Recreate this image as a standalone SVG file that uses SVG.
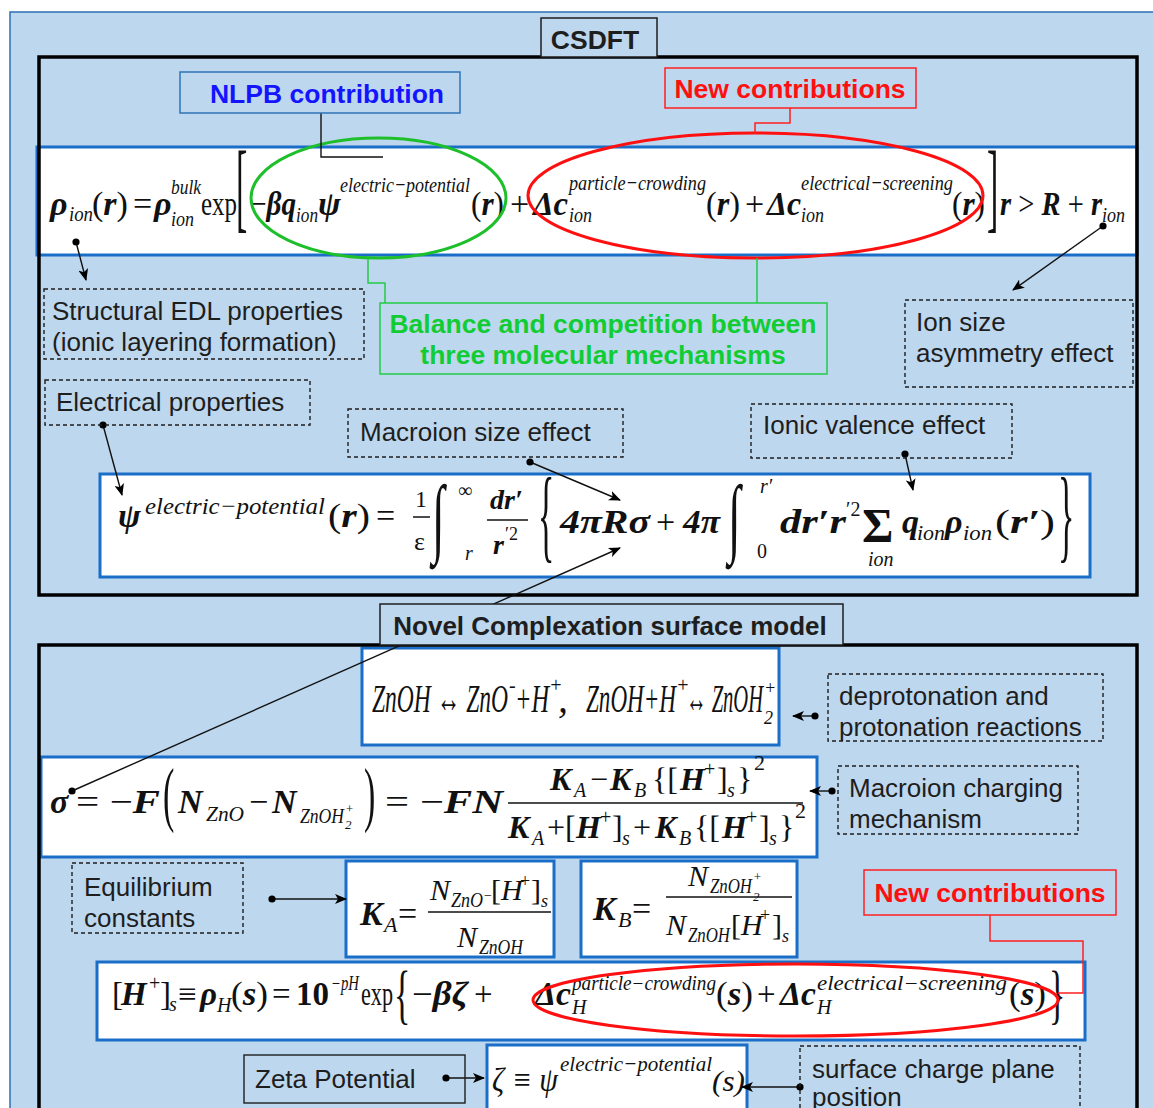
<svg xmlns="http://www.w3.org/2000/svg" width="1153" height="1108" viewBox="0 0 1153 1108">
<style>
.lbl{font-family:"Liberation Sans",Arial,sans-serif;font-size:26px;fill:#1e1e1e}
.bold{font-weight:bold;font-size:26.5px}
.dash{fill:none;stroke:#1e1e1e;stroke-width:1.4;stroke-dasharray:4 3}
.solid{fill:none;stroke:#1e1e1e;stroke-width:1.4}
.band{fill:#fff;stroke:#1a6ec8;stroke-width:3}
.frame{fill:none;stroke:#000;stroke-width:3.5}
.f{font-family:"Liberation Serif","Times New Roman",serif;fill:#111}
.bi{font-style:italic;font-weight:bold}
.it{font-style:italic;font-weight:normal}
.up{font-style:normal;font-weight:normal}
.con{stroke:#111;stroke-width:1.4;fill:none}
.ell{fill:none;stroke-width:3}
</style>
<defs>
<marker id="dot" markerWidth="8" markerHeight="8" refX="4" refY="4" markerUnits="userSpaceOnUse"><circle cx="4" cy="4" r="3.6" fill="#000"/></marker>
<marker id="arr" markerWidth="12" markerHeight="10" refX="11" refY="5" orient="auto" markerUnits="userSpaceOnUse"><path d="M0,0 L12,5 L0,10 L3,5 z" fill="#000"/></marker>
</defs>

<rect x="10" y="12" width="1150" height="1110" fill="#bdd7ee" stroke="#2e6fb0" stroke-width="1.5"/>

<g id="eq-rho">
<rect class="band" x="37" y="147" width="1100" height="108"/>
<text class="f" font-size="34"><tspan class="bi" x="50" y="215">ρ</tspan><tspan class="it" x="69" y="221" font-size="22" textLength="24" lengthAdjust="spacingAndGlyphs">ion</tspan><tspan x="92" y="215">(<tspan class="bi">r</tspan>)</tspan><tspan x="133" y="215">=</tspan><tspan class="bi" x="154" y="215">ρ</tspan><tspan class="it" x="171" y="194" font-size="22" textLength="30" lengthAdjust="spacingAndGlyphs">bulk</tspan><tspan class="it" x="171" y="226" font-size="22" textLength="23" lengthAdjust="spacingAndGlyphs">ion</tspan><tspan x="201" y="215" textLength="36" lengthAdjust="spacingAndGlyphs">exp</tspan><tspan x="250" y="215" textLength="46" lengthAdjust="spacingAndGlyphs">−<tspan class="bi">βq</tspan></tspan><tspan class="it" x="296" y="222" font-size="22" textLength="22" lengthAdjust="spacingAndGlyphs">ion</tspan><tspan class="bi" x="318" y="215">ψ</tspan><tspan class="it" x="340" y="192" font-size="22" textLength="130" lengthAdjust="spacingAndGlyphs">electric−potential</tspan><tspan x="471" y="215" textLength="33" lengthAdjust="spacingAndGlyphs">(<tspan class="bi">r</tspan>)</tspan><tspan x="510" y="215">+</tspan><tspan class="bi" x="533" y="215" textLength="35" lengthAdjust="spacingAndGlyphs">Δc</tspan><tspan class="it" x="569" y="190" font-size="22" textLength="137" lengthAdjust="spacingAndGlyphs">particle−crowding</tspan><tspan class="it" x="569" y="222" font-size="22" textLength="23" lengthAdjust="spacingAndGlyphs">ion</tspan><tspan x="706" y="215" textLength="34" lengthAdjust="spacingAndGlyphs">(<tspan class="bi">r</tspan>)</tspan><tspan x="745" y="215">+</tspan><tspan class="bi" x="767" y="215" textLength="34" lengthAdjust="spacingAndGlyphs">Δc</tspan><tspan class="it" x="801" y="190" font-size="22" textLength="152" lengthAdjust="spacingAndGlyphs">electrical−screening</tspan><tspan class="it" x="801" y="222" font-size="22" textLength="23" lengthAdjust="spacingAndGlyphs">ion</tspan><tspan x="952" y="215" textLength="33" lengthAdjust="spacingAndGlyphs">(<tspan class="bi">r</tspan>)</tspan><tspan x="1000" y="215" textLength="102" lengthAdjust="spacingAndGlyphs"><tspan class="bi">r</tspan> &gt; <tspan class="bi">R</tspan> + <tspan class="bi">r</tspan></tspan><tspan class="it" x="1102" y="222" font-size="22" textLength="23" lengthAdjust="spacingAndGlyphs">ion</tspan></text>
<text class="f" transform="translate(236,220) scale(1,2.9)" font-size="34">[</text>
<text class="f" transform="translate(987,220) scale(1,2.9)" font-size="34">]</text>
</g>

<g id="eq-psi">
<rect class="band" x="100" y="474" width="990" height="103"/>
<text class="f" font-size="34"><tspan class="bi" x="118" y="527">ψ</tspan><tspan class="it" x="145" y="514" font-size="24" textLength="180" lengthAdjust="spacingAndGlyphs">electric−potential</tspan><tspan x="328" y="527" textLength="42" lengthAdjust="spacingAndGlyphs">(<tspan class="bi">r</tspan>)</tspan><tspan x="376" y="527">=</tspan><tspan x="415" y="507" font-size="24">1</tspan><tspan x="414" y="550" font-size="26">ε</tspan><tspan x="458" y="497" font-size="20">∞</tspan><tspan class="it" x="465" y="560" font-size="20">r</tspan><tspan class="bi" x="490" y="509" font-size="28">dr′</tspan><tspan class="bi" x="493" y="554" font-size="28">r</tspan><tspan x="505" y="540" font-size="18">′2</tspan><tspan class="bi" x="560" y="533" textLength="90" lengthAdjust="spacingAndGlyphs">4πRσ</tspan><tspan x="656" y="533">+</tspan><tspan class="bi" x="683" y="533" textLength="37" lengthAdjust="spacingAndGlyphs">4π</tspan><tspan class="it" x="760" y="493" font-size="20">r′</tspan><tspan x="757" y="558" font-size="20">0</tspan><tspan class="bi" x="780" y="533" textLength="66" lengthAdjust="spacingAndGlyphs">dr′r</tspan><tspan x="846" y="516" font-size="20">′2</tspan><tspan x="862" y="542" font-size="48" font-weight="bold">Σ</tspan><tspan class="it" x="868" y="566" font-size="20">ion</tspan><tspan class="bi" x="902" y="533">q</tspan><tspan class="it" x="917" y="540" font-size="20" textLength="28" lengthAdjust="spacingAndGlyphs">ion</tspan><tspan class="bi" x="945" y="533">ρ</tspan><tspan class="it" x="963" y="540" font-size="20" textLength="29" lengthAdjust="spacingAndGlyphs">ion</tspan><tspan x="995" y="533" textLength="60" lengthAdjust="spacingAndGlyphs">(<tspan class="bi">r′</tspan>)</tspan></text>
<line x1="413" y1="517" x2="430" y2="517" stroke="#111" stroke-width="1.5"/>
<line x1="487" y1="520" x2="528" y2="520" stroke="#111" stroke-width="1.5"/>
<text class="f" transform="translate(432,546) scale(1,1.9)" font-size="46">∫</text>
<text class="f" transform="translate(538,549) scale(1,3.05)" font-size="34">{</text>
<text class="f" transform="translate(728,546) scale(1,1.9)" font-size="46">∫</text>
<text class="f" transform="translate(1058,549) scale(1,3.05)" font-size="34">}</text>
</g>

<g id="eq-zn">
<rect class="band" x="362" y="648" width="417" height="97"/>
<text class="f it" font-size="40"><tspan x="372" y="712" textLength="136" lengthAdjust="spacingAndGlyphs">ZnOH ↔ ZnO</tspan><tspan x="509" y="692" font-size="20">-</tspan><tspan x="515" y="712" textLength="34" lengthAdjust="spacingAndGlyphs">+H</tspan><tspan x="549" y="692" font-size="20">+</tspan><tspan x="558" y="712">,</tspan><tspan x="586" y="712" textLength="90" lengthAdjust="spacingAndGlyphs">ZnOH+H</tspan><tspan x="676" y="692" font-size="20">+</tspan><tspan x="686" y="712" textLength="77" lengthAdjust="spacingAndGlyphs">↔ ZnOH</tspan><tspan x="764" y="724" font-size="18">2</tspan><tspan x="764" y="694" font-size="18">+</tspan></text>
</g>

<g id="eq-sigma">
<rect class="band" x="41" y="757" width="776" height="100"/>
<text class="f" font-size="34"><tspan class="bi" x="50" y="813">σ</tspan><tspan x="76" y="813" textLength="84" lengthAdjust="spacingAndGlyphs">= −<tspan class="bi">F</tspan></tspan><tspan class="bi" x="178" y="813">N</tspan><tspan class="it" x="206" y="821" font-size="22" textLength="38" lengthAdjust="spacingAndGlyphs">ZnO</tspan><tspan x="249" y="813">−</tspan><tspan class="bi" x="272" y="813">N</tspan><tspan class="it" x="300" y="823" font-size="22" textLength="44" lengthAdjust="spacingAndGlyphs">ZnOH</tspan><tspan class="it" x="345" y="829" font-size="13">2</tspan><tspan class="it" x="345" y="813" font-size="13">+</tspan><tspan x="385" y="813" textLength="118" lengthAdjust="spacingAndGlyphs">= −<tspan class="bi">FN</tspan></tspan></text>
<text class="f" transform="translate(163,818) scale(1,2.1)" font-size="34">(</text>
<text class="f" transform="translate(364,818) scale(1,2.1)" font-size="34">)</text>
<text class="f" y="790" font-size="32"><tspan class="bi" x="550">K</tspan><tspan class="it" x="574" y="797" font-size="20">A</tspan><tspan x="590" y="790">−</tspan><tspan class="bi" x="610">K</tspan><tspan class="it" x="634" y="797" font-size="20">B</tspan><tspan x="652" y="790">{[</tspan><tspan class="bi" x="680">H</tspan><tspan x="704" y="776" font-size="20">+</tspan><tspan x="717" y="790">]</tspan><tspan class="it" x="727" y="797" font-size="20">s</tspan><tspan x="737" y="790">}</tspan><tspan x="754" y="770" font-size="22">2</tspan></text>
<line x1="508" y1="803" x2="803" y2="803" stroke="#111" stroke-width="1.6"/>
<text class="f" y="838" font-size="32"><tspan class="bi" x="508">K</tspan><tspan class="it" x="532" y="845" font-size="20">A</tspan><tspan x="547" y="838">+[</tspan><tspan class="bi" x="576">H</tspan><tspan x="600" y="824" font-size="20">+</tspan><tspan x="612" y="838">]</tspan><tspan class="it" x="622" y="845" font-size="20">s</tspan><tspan x="633" y="838">+</tspan><tspan class="bi" x="655">K</tspan><tspan class="it" x="679" y="845" font-size="20">B</tspan><tspan x="694" y="838">{[</tspan><tspan class="bi" x="722">H</tspan><tspan x="746" y="824" font-size="20">+</tspan><tspan x="759" y="838">]</tspan><tspan class="it" x="769" y="845" font-size="20">s</tspan><tspan x="779" y="838">}</tspan><tspan x="795" y="818" font-size="22">2</tspan></text>
</g>

<g id="eq-ka">
<rect class="band" x="346" y="861" width="208" height="96"/>
<text class="f" font-size="34"><tspan class="bi" x="360" y="925">K</tspan><tspan class="it" x="384" y="932" font-size="22">A</tspan><tspan x="398" y="925">=</tspan></text>
<text class="f it" font-size="30"><tspan x="430" y="900">N</tspan><tspan x="451" y="907" font-size="20" textLength="32" lengthAdjust="spacingAndGlyphs">ZnO</tspan><tspan x="483" y="900" font-size="14">−</tspan><tspan class="up" x="491" y="900">[</tspan><tspan x="501" y="900">H</tspan><tspan class="up" x="520" y="887" font-size="18">+</tspan><tspan class="up" x="531" y="900">]</tspan><tspan x="541" y="907" font-size="18">s</tspan><tspan x="457" y="947">N</tspan><tspan x="479" y="954" font-size="20" textLength="44" lengthAdjust="spacingAndGlyphs">ZnOH</tspan></text>
<line x1="428" y1="912" x2="551" y2="912" stroke="#111" stroke-width="1.5"/>
</g>

<g id="eq-kb">
<rect class="band" x="581" y="861" width="216" height="96"/>
<text class="f" font-size="34"><tspan class="bi" x="593" y="920">K</tspan><tspan class="it" x="618" y="927" font-size="22">B</tspan><tspan x="632" y="920">=</tspan></text>
<text class="f it" font-size="30"><tspan x="688" y="886">N</tspan><tspan x="710" y="893" font-size="20" textLength="42" lengthAdjust="spacingAndGlyphs">ZnOH</tspan><tspan x="753" y="881" font-size="13">+</tspan><tspan x="753" y="901" font-size="13">2</tspan><tspan x="666" y="935">N</tspan><tspan x="688" y="942" font-size="20" textLength="42" lengthAdjust="spacingAndGlyphs">ZnOH</tspan><tspan class="up" x="731" y="935">[</tspan><tspan x="741" y="935">H</tspan><tspan class="up" x="760" y="921" font-size="18">+</tspan><tspan class="up" x="772" y="935">]</tspan><tspan x="782" y="942" font-size="18">s</tspan></text>
<line x1="666" y1="897" x2="792" y2="897" stroke="#111" stroke-width="1.5"/>
</g>

<g id="eq-h">
<rect class="band" x="97" y="962" width="988" height="78"/>
<text class="f" font-size="33"><tspan x="112" y="1005">[</tspan><tspan class="bi" x="121" y="1005">H</tspan><tspan x="149" y="990" font-size="20">+</tspan><tspan x="160" y="1005">]</tspan><tspan class="it" x="169" y="1011" font-size="20">s</tspan><tspan x="178" y="1005">≡</tspan><tspan class="bi" x="200" y="1005">ρ</tspan><tspan class="it" x="217" y="1012" font-size="20">H</tspan><tspan x="231" y="1005" textLength="37" lengthAdjust="spacingAndGlyphs">(<tspan class="bi">s</tspan>)</tspan><tspan x="272" y="1005">=</tspan><tspan x="296" y="1005" font-weight="bold" textLength="33" lengthAdjust="spacingAndGlyphs">10</tspan><tspan class="it" x="331" y="990" font-size="20" textLength="28" lengthAdjust="spacingAndGlyphs">−pH</tspan><tspan x="361" y="1005" textLength="32" lengthAdjust="spacingAndGlyphs">exp</tspan><tspan x="412" y="1005" textLength="56" lengthAdjust="spacingAndGlyphs">−<tspan class="bi">βζ</tspan></tspan><tspan x="474" y="1005">+</tspan><tspan class="bi" x="535" y="1005" textLength="36" lengthAdjust="spacingAndGlyphs">Δc</tspan><tspan class="it" x="572" y="990" font-size="20" textLength="144" lengthAdjust="spacingAndGlyphs">particle−crowding</tspan><tspan class="it" x="572" y="1014" font-size="20">H</tspan><tspan x="716" y="1005" textLength="37" lengthAdjust="spacingAndGlyphs">(<tspan class="bi">s</tspan>)</tspan><tspan x="757" y="1005">+</tspan><tspan class="bi" x="780" y="1005" textLength="36" lengthAdjust="spacingAndGlyphs">Δc</tspan><tspan class="it" x="817" y="990" font-size="20" textLength="190" lengthAdjust="spacingAndGlyphs">electrical−screening</tspan><tspan class="it" x="817" y="1014" font-size="20">H</tspan><tspan x="1009" y="1005" textLength="37" lengthAdjust="spacingAndGlyphs">(<tspan class="bi">s</tspan>)</tspan></text>
<text class="f" transform="translate(394,1016) scale(1,1.95)" font-size="34">{</text>
<text class="f" transform="translate(1049,1016) scale(1,1.95)" font-size="34">}</text>
</g>

<g id="eq-zeta">
<rect class="band" x="487" y="1045" width="260" height="80"/>
<text class="f it" font-size="34"><tspan x="492" y="1091" textLength="66" lengthAdjust="spacingAndGlyphs">ζ ≡ ψ</tspan><tspan x="560" y="1071" font-size="22" textLength="152" lengthAdjust="spacingAndGlyphs">electric−potential</tspan><tspan x="712" y="1091" font-size="30" textLength="33" lengthAdjust="spacingAndGlyphs">(s)</tspan></text>
</g>

<rect class="frame" x="39" y="57" width="1098" height="538"/>
<rect class="frame" x="39" y="645" width="1098" height="480"/>

<ellipse class="ell" cx="378.5" cy="198" rx="127.5" ry="60" stroke="#1dbf2a"/>
<ellipse class="ell" cx="755.5" cy="195.5" rx="227.5" ry="62.5" stroke="#ff1010"/>
<ellipse class="ell" cx="795.5" cy="1000" rx="262.5" ry="36" stroke="#ff1010"/>

<g id="connectors">
<polyline class="con" points="321,113 321,157 383,157" stroke="#222"/>
<polyline points="790,108 790,123 755,123 755,134" fill="none" stroke="#ff2020" stroke-width="1.5"/>
<polyline points="368,258 368,283 385,283 385,303" fill="none" stroke="#22cc44" stroke-width="1.5"/>
<line x1="757" y1="258" x2="757" y2="303" stroke="#22cc44" stroke-width="1.5"/>
<line class="con" x1="76" y1="242" x2="86" y2="280" marker-start="url(#dot)" marker-end="url(#arr)"/>
<line class="con" x1="1103" y1="226" x2="1013" y2="290" marker-start="url(#dot)" marker-end="url(#arr)"/>
<line class="con" x1="103" y1="425" x2="122" y2="495" marker-start="url(#dot)" marker-end="url(#arr)"/>
<line class="con" x1="530" y1="462" x2="620" y2="500" marker-start="url(#dot)" marker-end="url(#arr)"/>
<line class="con" x1="905" y1="454" x2="913" y2="490" marker-start="url(#dot)" marker-end="url(#arr)"/>
<line class="con" x1="72" y1="791" x2="620" y2="548" marker-start="url(#dot)" marker-end="url(#arr)"/>
<line class="con" x1="815" y1="716" x2="793" y2="716" marker-start="url(#dot)" marker-end="url(#arr)"/>
<line class="con" x1="832" y1="791" x2="810" y2="791" marker-start="url(#dot)" marker-end="url(#arr)"/>
<line class="con" x1="272" y1="899" x2="346" y2="899" marker-start="url(#dot)" marker-end="url(#arr)"/>
<polyline points="990,915 990,941 1083,941 1083,993 1058,993" fill="none" stroke="#ff2020" stroke-width="1.5"/>
<line class="con" x1="446" y1="1078" x2="484" y2="1078" marker-start="url(#dot)" marker-end="url(#arr)"/>
<line class="con" x1="800" y1="1087" x2="742" y2="1087" marker-start="url(#dot)" marker-end="url(#arr)"/>
</g>

<g id="csdft">
<rect x="541" y="18" width="116" height="39" fill="#bdd7ee" stroke="#1e1e1e" stroke-width="1.5"/>
<text class="lbl bold" x="595" y="49" text-anchor="middle">CSDFT</text>
</g>
<g id="nlpb">
<rect x="180" y="72" width="280" height="41" fill="#bdd7ee" stroke="#2e75b6" stroke-width="1.5"/>
<text class="lbl bold" x="327" y="103" text-anchor="middle" style="fill:#1414ff">NLPB contribution</text>
</g>
<g id="newc1">
<rect x="665" y="68" width="251" height="40" fill="#bdd7ee" stroke="#ff2020" stroke-width="1.5"/>
<text class="lbl bold" x="790" y="98" text-anchor="middle" style="fill:#ff1010">New contributions</text>
</g>
<g id="balance">
<rect x="380" y="303" width="447" height="71" fill="#bdd7ee" stroke="#22cc44" stroke-width="1.5"/>
<text class="lbl bold" x="603" y="333" text-anchor="middle" style="fill:#11cc33">Balance and competition between</text>
<text class="lbl bold" x="603" y="364" text-anchor="middle" style="fill:#11cc33">three molecular mechanisms</text>
</g>
<g id="structural">
<rect class="dash" x="44" y="289" width="320" height="70"/>
<text class="lbl" x="52" y="320">Structural EDL properties</text>
<text class="lbl" x="52" y="351">(ionic layering formation)</text>
</g>
<g id="ionsize">
<rect class="dash" x="905" y="300" width="228" height="87"/>
<text class="lbl" x="916" y="331">Ion size</text>
<text class="lbl" x="916" y="362">asymmetry effect</text>
</g>
<g id="electrical">
<rect class="dash" x="45" y="380" width="265" height="45"/>
<text class="lbl" x="56" y="411">Electrical properties</text>
</g>
<g id="macroion">
<rect class="dash" x="348" y="409" width="275" height="48"/>
<text class="lbl" x="360" y="441">Macroion size effect</text>
</g>
<g id="valence">
<rect class="dash" x="751" y="404" width="261" height="54"/>
<text class="lbl" x="763" y="434">Ionic valence effect</text>
</g>
<g id="novel">
<rect x="380" y="604" width="463" height="41" fill="#bdd7ee" stroke="#1e1e1e" stroke-width="1.5"/>
<text class="lbl bold" x="610" y="635" text-anchor="middle" style="font-size:26px">Novel Complexation surface model</text>
</g>
<g id="deprot">
<rect class="dash" x="828" y="674" width="275" height="67"/>
<text class="lbl" x="839" y="705">deprotonation and</text>
<text class="lbl" x="839" y="736">protonation reactions</text>
</g>
<g id="charging">
<rect class="dash" x="838" y="766" width="240" height="68"/>
<text class="lbl" x="849" y="797">Macroion charging</text>
<text class="lbl" x="849" y="828">mechanism</text>
</g>
<g id="equil">
<rect class="dash" x="72" y="863" width="171" height="70"/>
<text class="lbl" x="84" y="896">Equilibrium</text>
<text class="lbl" x="84" y="927">constants</text>
</g>
<g id="newc2">
<rect x="864" y="870" width="252" height="45" fill="#bdd7ee" stroke="#ff2020" stroke-width="1.5"/>
<text class="lbl bold" x="990" y="902" text-anchor="middle" style="fill:#ff1010">New contributions</text>
</g>
<g id="zeta">
<rect class="solid" x="244" y="1055" width="221" height="48"/>
<text class="lbl" x="255" y="1088">Zeta Potential</text>
</g>
<g id="surface">
<rect class="dash" x="800" y="1046" width="280" height="80"/>
<text class="lbl" x="812" y="1078">surface charge plane</text>
<text class="lbl" x="812" y="1106">position</text>
</g>
</svg>
